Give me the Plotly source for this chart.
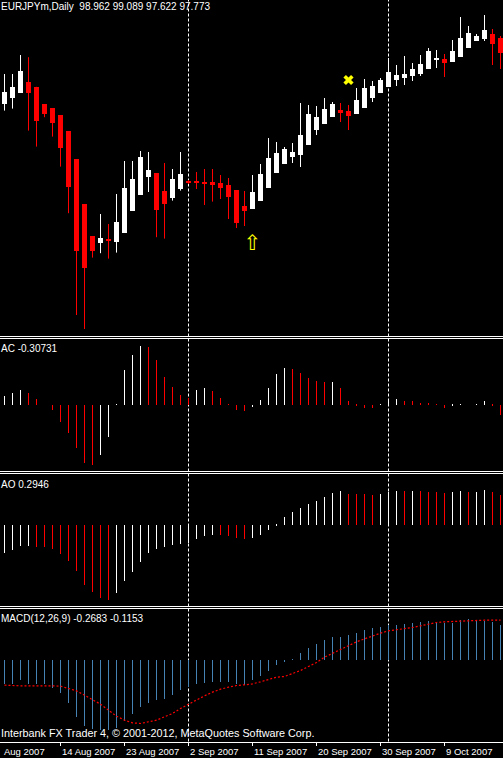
import plotly.graph_objects as go

# ---------------- data ----------------
dates = ["2007-08-06","2007-08-07","2007-08-08","2007-08-09","2007-08-10","2007-08-12","2007-08-13",
         "2007-08-14","2007-08-15","2007-08-16","2007-08-17","2007-08-19","2007-08-20","2007-08-21",
         "2007-08-22","2007-08-23","2007-08-24","2007-08-26","2007-08-27","2007-08-28","2007-08-29",
         "2007-08-30","2007-08-31","2007-09-02","2007-09-03","2007-09-04","2007-09-05","2007-09-06",
         "2007-09-07","2007-09-09","2007-09-10","2007-09-11","2007-09-12","2007-09-13","2007-09-14",
         "2007-09-16","2007-09-17","2007-09-18","2007-09-19","2007-09-20","2007-09-21","2007-09-23",
         "2007-09-24","2007-09-25","2007-09-26","2007-09-27","2007-09-28","2007-09-30","2007-10-01",
         "2007-10-02","2007-10-03","2007-10-04","2007-10-05","2007-10-07","2007-10-08","2007-10-09",
         "2007-10-10","2007-10-11","2007-10-12","2007-10-14","2007-10-15","2007-10-16","2007-10-17"]

opens = [162.80,163.10,163.37,163.90,163.64,162.80,162.60,162.25,161.45,160.05,157.80,156.20,155.87,156.07,
         155.92,156.37,157.47,158.27,159.15,159.35,158.45,158.12,158.57,158.95,158.95,158.92,158.90,158.85,
         158.75,158.50,157.70,157.55,157.95,158.60,159.35,159.80,160.15,160.25,160.75,161.50,161.80,162.15,
         162.50,162.45,162.30,162.60,163.10,163.35,163.65,164.00,164.10,164.20,164.30,164.55,165.00,165.05,
         164.90,165.15,165.60,165.95,166.05,166.30,166.10]
highs = [164.30,164.30,165.25,165.14,163.66,162.80,162.60,162.25,161.45,160.05,157.80,156.20,157.30,156.80,
         158.30,159.95,159.95,160.45,160.40,159.35,159.85,159.55,160.40,159.00,159.40,159.55,159.55,159.25,
         159.10,158.50,158.45,159.25,159.80,161.10,160.90,160.65,160.85,162.85,162.75,162.70,163.10,162.90,
         162.85,162.75,163.60,164.05,163.95,164.10,165.10,164.75,165.20,164.85,165.25,165.60,165.50,165.30,
         166.00,167.15,166.70,166.30,167.25,166.55,166.20]
lows = [162.47,162.57,163.35,161.47,160.67,162.14,161.17,159.67,157.34,152.25,151.55,155.12,155.34,155.07,
        155.37,156.37,157.47,158.27,158.40,156.14,156.07,157.97,158.47,158.80,158.55,157.75,157.92,158.05,
        157.05,156.60,156.70,157.55,157.95,158.60,159.35,159.80,159.85,159.65,160.75,161.25,161.80,162.15,
        161.90,161.50,162.30,162.60,162.90,163.35,163.65,163.70,163.75,163.95,164.20,164.55,164.60,164.15,
        164.90,165.15,165.60,165.95,165.95,164.75,164.55]
closes = [163.40,163.64,164.45,163.37,161.97,162.30,161.87,160.62,158.67,155.47,154.62,155.47,156.10,155.97,
          156.90,158.60,159.05,160.15,159.50,157.52,157.82,159.05,159.30,158.85,158.85,158.84,158.75,158.62,
          158.15,156.85,157.45,158.40,159.30,160.10,160.35,160.55,160.40,161.25,162.30,162.15,162.55,162.80,
          162.35,162.20,163.00,163.60,163.70,164.00,164.40,164.25,164.30,164.55,164.80,165.45,165.10,164.85,
          165.45,166.10,166.35,166.20,166.50,165.80,165.35]

ac = [0.26,0.35,0.44,0.35,0.17,0.00,-0.16,-0.51,-0.84,-1.29,-1.74,-1.80,-1.50,-0.96,0.02,1.04,1.49,1.76,
      1.72,1.34,0.83,0.53,0.29,0.20,0.44,0.50,0.41,0.20,0.02,-0.16,-0.18,-0.07,0.14,0.50,0.92,1.10,1.07,
      0.95,0.80,0.71,0.68,0.685,0.50,0.11,-0.04,-0.10,-0.11,0.005,0.12,0.17,0.11,0.10,0.03,0.025,0.02,
      -0.09,-0.04,0.02,0.0,0.02,0.11,-0.04,-0.3073]

ao = [-0.2739,-0.2475,-0.2079,-0.2046,-0.2112,-0.2178,-0.2376,-0.2838,-0.3531,-0.4521,-0.5907,-0.6600,
      -0.7194,-0.7359,-0.6699,-0.5511,-0.4620,-0.3630,-0.2739,-0.2343,-0.2145,-0.1980,-0.1848,-0.1749,
      -0.1353,-0.1056,-0.0957,-0.0990,-0.1023,-0.1254,-0.1353,-0.1221,-0.0924,-0.0462,0.0165,0.0825,
      0.1320,0.1716,0.2112,0.2409,0.2805,0.3201,0.3399,0.3102,0.3086,0.3069,0.3003,0.3102,0.3333,0.3399,
      0.3366,0.3399,0.3366,0.3333,0.3300,0.3201,0.3267,0.3399,0.3300,0.3333,0.3498,0.3300,0.2946]

macd_main = [-0.370,-0.370,-0.300,-0.360,-0.360,-0.360,-0.420,-0.500,-0.650,-0.860,-1.000,-1.040,-1.060,
             -1.060,-1.025,-0.920,-0.810,-0.710,-0.650,-0.610,-0.590,-0.530,-0.460,-0.410,-0.360,-0.350,
             -0.340,-0.330,-0.330,-0.360,-0.380,-0.305,-0.245,-0.165,-0.080,-0.035,-0.005,0.105,0.175,0.235,
             0.295,0.340,0.340,0.375,0.400,0.445,0.475,0.490,0.520,0.525,0.535,0.550,0.565,0.580,0.565,
             0.555,0.555,0.595,0.610,0.600,0.585,0.570,0.520]
macd_signal = [-0.385,-0.395,-0.395,-0.395,-0.400,-0.395,-0.395,-0.400,-0.435,-0.470,-0.535,-0.600,-0.670,
               -0.760,-0.850,-0.910,-0.950,-0.960,-0.940,-0.910,-0.860,-0.810,-0.735,-0.670,-0.600,-0.545,
               -0.490,-0.445,-0.415,-0.390,-0.380,-0.365,-0.335,-0.305,-0.265,-0.255,-0.215,-0.165,-0.105,
               -0.045,0.035,0.095,0.145,0.210,0.265,0.310,0.355,0.395,0.430,0.445,0.460,0.480,0.505,0.530,
               0.555,0.565,0.570,0.585,0.590,0.590,0.590,0.590,0.590]

buy_idx = [31]
buy_price = [155.75]
sell_idx = [43]
sell_price = [164.00]

sep_idx = [23, 48]
tick_idx = [-1, 7, 15, 23, 31, 39, 47, 55]
tick_labels = ["Aug 2007", "14 Aug 2007", "23 Aug 2007", "2 Sep 2007", "11 Sep 2007",
               "20 Sep 2007", "30 Sep 2007", "9 Oct 2007"]

title_text = "EURJPYm,Daily\u00a0\u00a098.962 99.089 97.622 97.773"
ac_label = "AC -0.30731"
ao_label = "AO 0.2946"
macd_label = "MACD(12,26,9) -0.2683 -0.1153"
copyright_text = "Interbank FX Trader 4, \u00a9 2001-2012, MetaQuotes Software Corp."

# ---------------- styling ----------------
W, H = 503, 758
BULL = "#ffffff"
BEAR = "#ff0000"
MACD_COL = "#4682b4"
FONT = "Liberation Sans"

def py(px):
    return 1 - px / H

x = list(range(len(dates)))
XR = [-0.5625, 62.3125]

def idx_to_paper(i):
    return (i - XR[0]) / (XR[1] - XR[0])

fig = go.Figure()

# candle wicks
for bull in (True, False):
    wx, wy = [], []
    for i in x:
        if (closes[i] >= opens[i]) == bull:
            wx += [i, i, None]
            wy += [lows[i], highs[i], None]
    fig.add_trace(go.Scatter(x=wx, y=wy, mode="lines", line=dict(color=BULL if bull else BEAR, width=1),
                             hoverinfo="skip", showlegend=False, xaxis="x", yaxis="y"))

# candle bodies
for bull in (True, False):
    bx, bb, bh = [], [], []
    for i in x:
        if (closes[i] >= opens[i]) == bull:
            bx.append(i)
            bb.append(min(opens[i], closes[i]))
            bh.append(abs(closes[i] - opens[i]))
    fig.add_trace(go.Bar(x=bx, y=bh, base=bb, width=0.625, marker=dict(color=BULL if bull else BEAR, line=dict(width=0)),
                         showlegend=False, xaxis="x", yaxis="y"))

# signals
fig.add_trace(go.Scatter(x=buy_idx, y=buy_price, mode="text", text=["\u21e7"],
                         textfont=dict(color="#ffff00", size=21, family="DejaVu Sans"),
                         showlegend=False, xaxis="x", yaxis="y"))
fig.add_trace(go.Scatter(x=sell_idx, y=sell_price, mode="markers",
                         marker=dict(symbol="x", size=9, color="#ffff00", line=dict(width=0)),
                         showlegend=False, xaxis="x", yaxis="y"))

# AC
ac_col = [BULL if i == 0 or ac[i] >= ac[i - 1] else BEAR for i in x]
fig.add_trace(go.Bar(x=x, y=ac, width=0.125, marker=dict(color=ac_col, line=dict(width=0)),
                     showlegend=False, xaxis="x2", yaxis="y2"))
# AO
ao_col = [BULL if i == 0 or ao[i] >= ao[i - 1] else BEAR for i in x]
fig.add_trace(go.Bar(x=x, y=ao, width=0.125, marker=dict(color=ao_col, line=dict(width=0)),
                     showlegend=False, xaxis="x3", yaxis="y3"))
# MACD
fig.add_trace(go.Bar(x=x, y=macd_main, width=0.125, marker=dict(color=MACD_COL, line=dict(width=0)),
                     showlegend=False, xaxis="x4", yaxis="y4"))
fig.add_trace(go.Scatter(x=x, y=macd_signal, mode="lines", line=dict(color="#ff0000", width=1.2, dash="2px,2px"),
                         showlegend=False, xaxis="x4", yaxis="y4"))

axis_common = dict(showgrid=False, zeroline=False, showticklabels=False, range=XR, fixedrange=True)
yc = dict(showgrid=False, zeroline=False, showticklabels=False, fixedrange=True)

fig.update_layout(
    width=W, height=H, margin=dict(l=0, r=0, t=0, b=0),
    paper_bgcolor="#000000", plot_bgcolor="rgba(0,0,0,0)",
    barmode="overlay", bargap=0, showlegend=False,
    font=dict(family=FONT, color="#ffffff", size=10),
    xaxis=dict(anchor="y", domain=[0, 1], **axis_common),
    xaxis2=dict(anchor="y2", domain=[0, 1], **axis_common),
    xaxis3=dict(anchor="y3", domain=[0, 1], **axis_common),
    xaxis4=dict(anchor="y4", domain=[0, 1], showline=True, linecolor="#ffffff", linewidth=1,
                ticks="outside", ticklen=3, tickwidth=1, tickcolor="#ffffff", tickvals=tick_idx,
                **axis_common),
    yaxis=dict(domain=[py(336), 1], range=[151.2, 168.0], **yc),
    yaxis2=dict(domain=[py(471), py(339)], range=[-1.989, 1.971], **yc),
    yaxis3=dict(domain=[py(606), py(474)], range=[-0.7999, 0.5069], **yc),
    yaxis4=dict(domain=[py(741.5), py(609)], range=[-1.23, 0.7575], **yc),
)

shapes = []
for s in sep_idx:
    shapes.append(dict(type="line", xref="x", yref="paper", x0=s, x1=s, y0=py(741.5), y1=1,
                       line=dict(color="#ffffff", width=1, dash="3px,2px"), layer="below"))
for yy in (336.5, 338.5, 471.5, 473.5, 606.5, 608.5):
    shapes.append(dict(type="line", xref="paper", yref="paper", x0=0, x1=1, y0=py(yy), y1=py(yy),
                       line=dict(color="#ffffff", width=1), layer="above"))
fig.update_layout(shapes=shapes)

ann = []
def label(text, ypx, xpx=0, size=10):
    ann.append(dict(text=text, x=xpx / W, y=py(ypx), xref="paper", yref="paper", xanchor="left",
                    yanchor="middle", showarrow=False, xshift=-1,
                    font=dict(color="#ffffff", size=size, family=FONT)))

label(title_text, 6)
label(ac_label, 348)
label(ao_label, 484)
label(macd_label, 618)
label(copyright_text, 733, 0, 10.8)
for t, lab in zip(tick_idx, tick_labels):
    if t < XR[0]:
        px_, shift = 0.0, 2
    else:
        px_, shift = idx_to_paper(t), -1
    ann.append(dict(text=lab, x=px_, y=py(751), xref="paper", yref="paper", xanchor="left",
                    yanchor="middle", xshift=shift, showarrow=False,
                    font=dict(color="#ffffff", size=9.5, family=FONT)))
fig.update_layout(annotations=ann)

fig.write_html("out.html", config={"displayModeBar": False},
               post_script="document.body.style.margin='0';document.body.style.overflow='hidden';")
